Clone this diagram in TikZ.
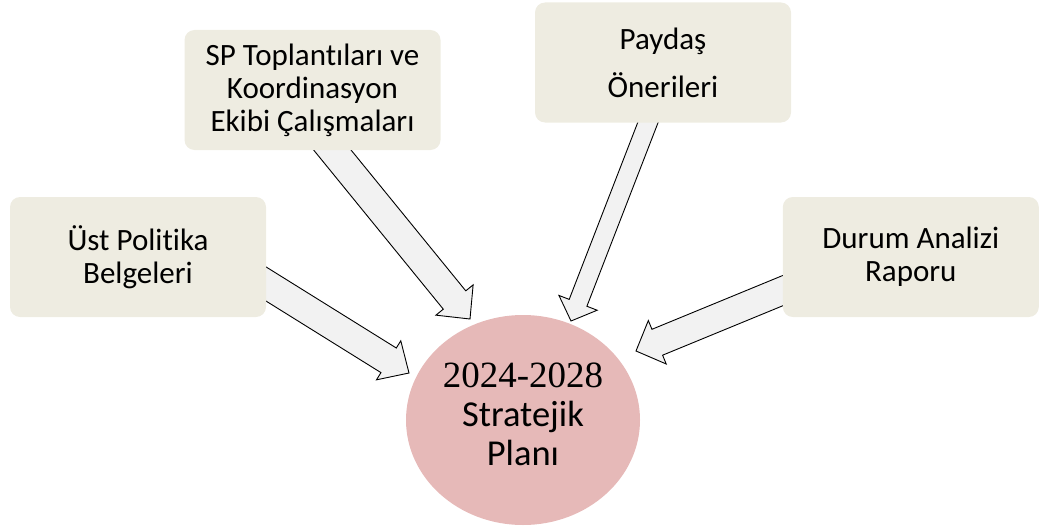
\documentclass[tikz,border=0pt]{standalone}
\usepackage{fontspec}
\setmainfont{Carlito}[Ligatures=CommonOff]
\newfontfamily\tnr{Liberation Serif}
\usetikzlibrary{calc,shapes.geometric}
\definecolor{boxc}{HTML}{EEECE1}
\definecolor{circc}{HTML}{E6B9B8}
\definecolor{arrc}{HTML}{F2F2F2}
\tikzset{
  infobox/.style={rounded corners=10pt, fill=boxc, draw=none, minimum width=256pt,
    minimum height=120pt, inner sep=0pt, align=center, font=\fontsize{31}{33}\selectfont},
  planbox/.style={ellipse, fill=circc, draw=none, minimum width=234pt, minimum height=210pt,
    inner sep=0pt, align=center, font=\fontsize{36.5}{39}\selectfont, text depth=12pt},
  bigarrow/.style={fill=arrc, draw=black, line width=0.9pt, line join=miter}
}
\newcommand\blkarr[5]{%
  \coordinate (ba) at ($(#2)!#5!(#1)$);
  \draw[bigarrow] ($(#1)!#3!90:(#2)$) -- ($(ba)!#3!90:(#2)$) -- ($(ba)!#4!90:(#2)$) -- (#2)
    -- ($(ba)!#4!-90:(#2)$) -- ($(ba)!#3!-90:(#2)$) -- ($(#1)!#3!-90:(#2)$) -- cycle;}
\begin{document}
\begin{tikzpicture}[x=1pt,y=-1pt]
\useasboundingbox (0,0) rectangle (1039,527);
\node[planbox] (plan) at (523,420) {{\tnr\fontsize{37}{39}\selectfont 2024-2028}\\Stratejik\\Planı};
% arrow end points
\coordinate (t1) at (250,274);   \coordinate (h1) at (409,373);
\coordinate (t2) at (325,141);   \coordinate (h2) at (470,319);
\coordinate (t3) at (652,112);   \coordinate (h3) at (571,321);
\coordinate (t4) at (794,286);   \coordinate (h4) at (636,351);
\blkarr{t1}{h1}{14.5pt}{23pt}{24pt}
\blkarr{t2}{h2}{14.5pt}{24pt}{24.5pt}
\blkarr{t3}{h3}{9.5pt}{20.5pt}{19.5pt}
\blkarr{t4}{h4}{14pt}{23.5pt}{23pt}
\node[infobox] (ust) at (138,257) {Üst Politika\\Belgeleri};
\node[infobox] (sp) at (312.5,90) {SP Toplantıları ve\\Koordinasyon\\Ekibi Çalışmaları};
\node[infobox, font=\fontsize{31}{48}\selectfont] (paydas) at (663,62.5) {Paydaş\\Önerileri};
\node[infobox] (durum) at (910.8,257) {Durum Analizi\\Raporu};
\end{tikzpicture}
\end{document}
